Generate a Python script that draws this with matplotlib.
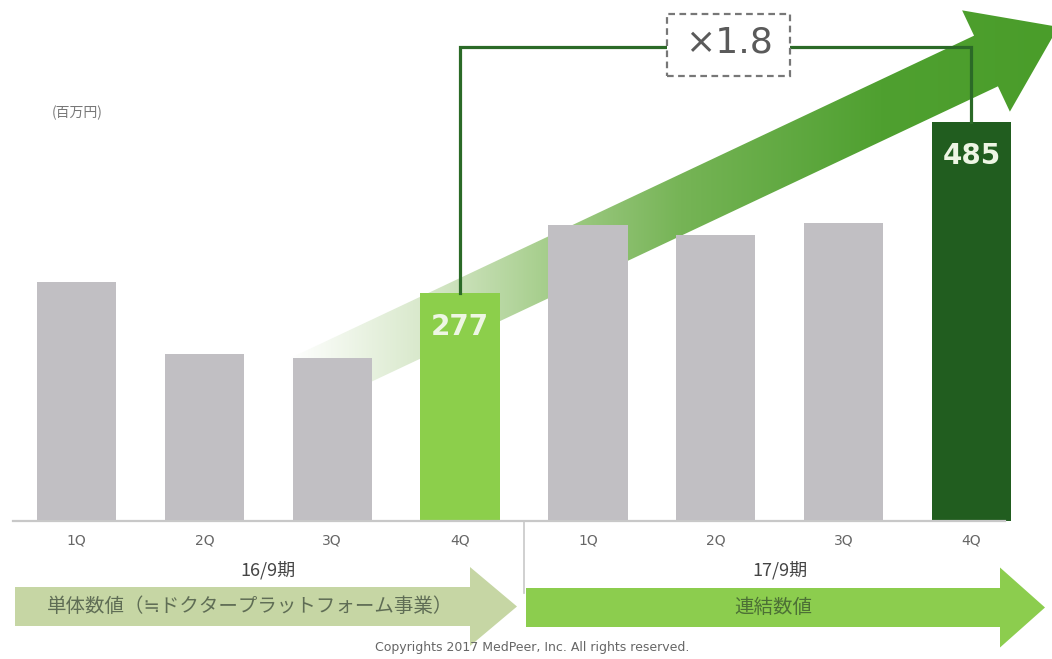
import numpy as np
import matplotlib
matplotlib.use('Agg')
import matplotlib.pyplot as plt
from matplotlib.patches import Polygon, Rectangle
from matplotlib.colors import to_rgb

# 四半期ごとの売上高（百万円）
quarters = ['1Q', '2Q', '3Q', '4Q', '1Q', '2Q', '3Q', '4Q']
periods = ['16/9期', '17/9期']
sales = [291, 203, 198, 277, 360, 348, 363, 485]
highlight = [3, 7]  # 比較する2本（16/9期4Q と 17/9期4Q）

unit_label = '(百万円)'
left_label = '単体数値（≒ドクタープラットフォーム事業）'
right_label = '連結数値'
copyright_text = 'Copyrights 2017 MedPeer, Inc. All rights reserved.'

bar_colors = ['#c1bfc3'] * 3 + ['#8ccf4b'] + ['#c1bfc3'] * 3 + ['#215d1f']
JP = ['Noto Sans CJK JP', 'DejaVu Sans']

W, H = 1052, 659
fig = plt.figure(figsize=(W / 100, H / 100), dpi=100)

# 背景レイヤー（ピクセル座標）：大きな矢印と下の帯
bg = fig.add_axes([0, 0, 1, 1], zorder=1)
bg.axis('off')

S = np.array([250.0, 408.0])
B = np.array([986.0, 61.0])
u = (B - S) / np.linalg.norm(B - S)
n = np.array([-u[1], u[0]])
pts = [S - 28 * n, B - 28 * n, B - 56 * n, B + 80 * u, B + 56 * n, B + 28 * n, S + 28 * n]
arrow = Polygon(pts, closed=True, facecolor='none', edgecolor='none')
bg.add_patch(arrow)

stops_x = [290, 430, 545, 680, 880, 1052]
stops_c = [to_rgb(c) for c in ['#ffffff', '#d6e7c8', '#a6ce8c', '#76b456', '#4fa030', '#4a9d2a']]
xs = np.arange(W)
img = np.ones((H, W, 4))
for k in range(3):
    img[:, :, k] = np.interp(xs, stops_x, [c[k] for c in stops_c])[None, :]
im = bg.imshow(img, extent=[0, W, H, 0], aspect='auto', interpolation='bilinear', zorder=1)
im.set_clip_path(arrow)

def band(x0, x1, tip, yc, body_h, head_h, color):
    p = [(x0, yc - body_h / 2), (x1, yc - body_h / 2), (x1, yc - head_h / 2), (tip, yc),
         (x1, yc + head_h / 2), (x1, yc + body_h / 2), (x0, yc + body_h / 2)]
    bg.add_patch(Polygon(p, closed=True, facecolor=color, edgecolor='none', zorder=2))

band(15, 470, 517, 606.5, 39, 79, '#c6d6a4')
band(526, 1000, 1045, 607.5, 39, 80, '#8ccd4e')
bg.text(250, 606, left_label, ha='center', va='center', fontsize=14, color='#5f6d55', family=JP, zorder=3)
bg.text(773, 607, right_label, ha='center', va='center', fontsize=14, color='#4c7035', family=JP, zorder=3)
bg.text(77, 113, unit_label, ha='center', va='center', fontsize=10, color='#777777', family=JP)
bg.text(532, 648, copyright_text, ha='center', va='center', fontsize=9, color='#666666')
bg.set_xlim(0, W)
bg.set_ylim(H, 0)

# 棒グラフ本体（データ座標）
ax = fig.add_axes([0, 0, 1, 1], zorder=2)
ax.patch.set_visible(False)
ax.axis('off')
ax.set_xlim(-0.598, 7.63)
ax.set_ylim(-168, 634)

x = np.arange(len(sales))
ax.bar(x, sales, width=0.62, color=bar_colors, zorder=2)
ax.plot([-0.497, 7.26], [0, 0], color='#c8c8c8', lw=1.6, zorder=2)
ax.plot([3.5, 3.5], [0, -88], color='#c8c8c8', lw=1.2, zorder=2)

for i, q in enumerate(quarters):
    ax.text(i, -24, q, ha='center', va='center', fontsize=10, color='#666666')
for i, p in enumerate(periods):
    ax.text(1.5 + 4 * i, -60, p, ha='center', va='center', fontsize=13, color='#444444', family=JP)

for i in highlight:
    ax.annotate(str(sales[i]), (i, sales[i]), xytext=(0, -24), textcoords='offset points',
                ha='center', va='center', fontsize=20, fontweight='bold', color='#eef6e4', zorder=4)

# 倍率を示すブラケット
a, b = highlight
top = 577
ax.plot([a, a, b, b], [sales[a], top, top, sales[b]], color='#2b6a27', lw=2.3,
        solid_joinstyle='miter', zorder=3)
ax.add_patch(Rectangle((4.618, 541), 0.962, 76, facecolor='white', edgecolor='#777777',
                       lw=1.6, ls=(0, (3, 2)), zorder=4))
ax.text(5.1, 582, f'×{sales[b] / sales[a]:.1f}', ha='center', va='center',
        fontsize=26, color='#5a5a5a', zorder=5)

fig.savefig('out.png', dpi=100)
